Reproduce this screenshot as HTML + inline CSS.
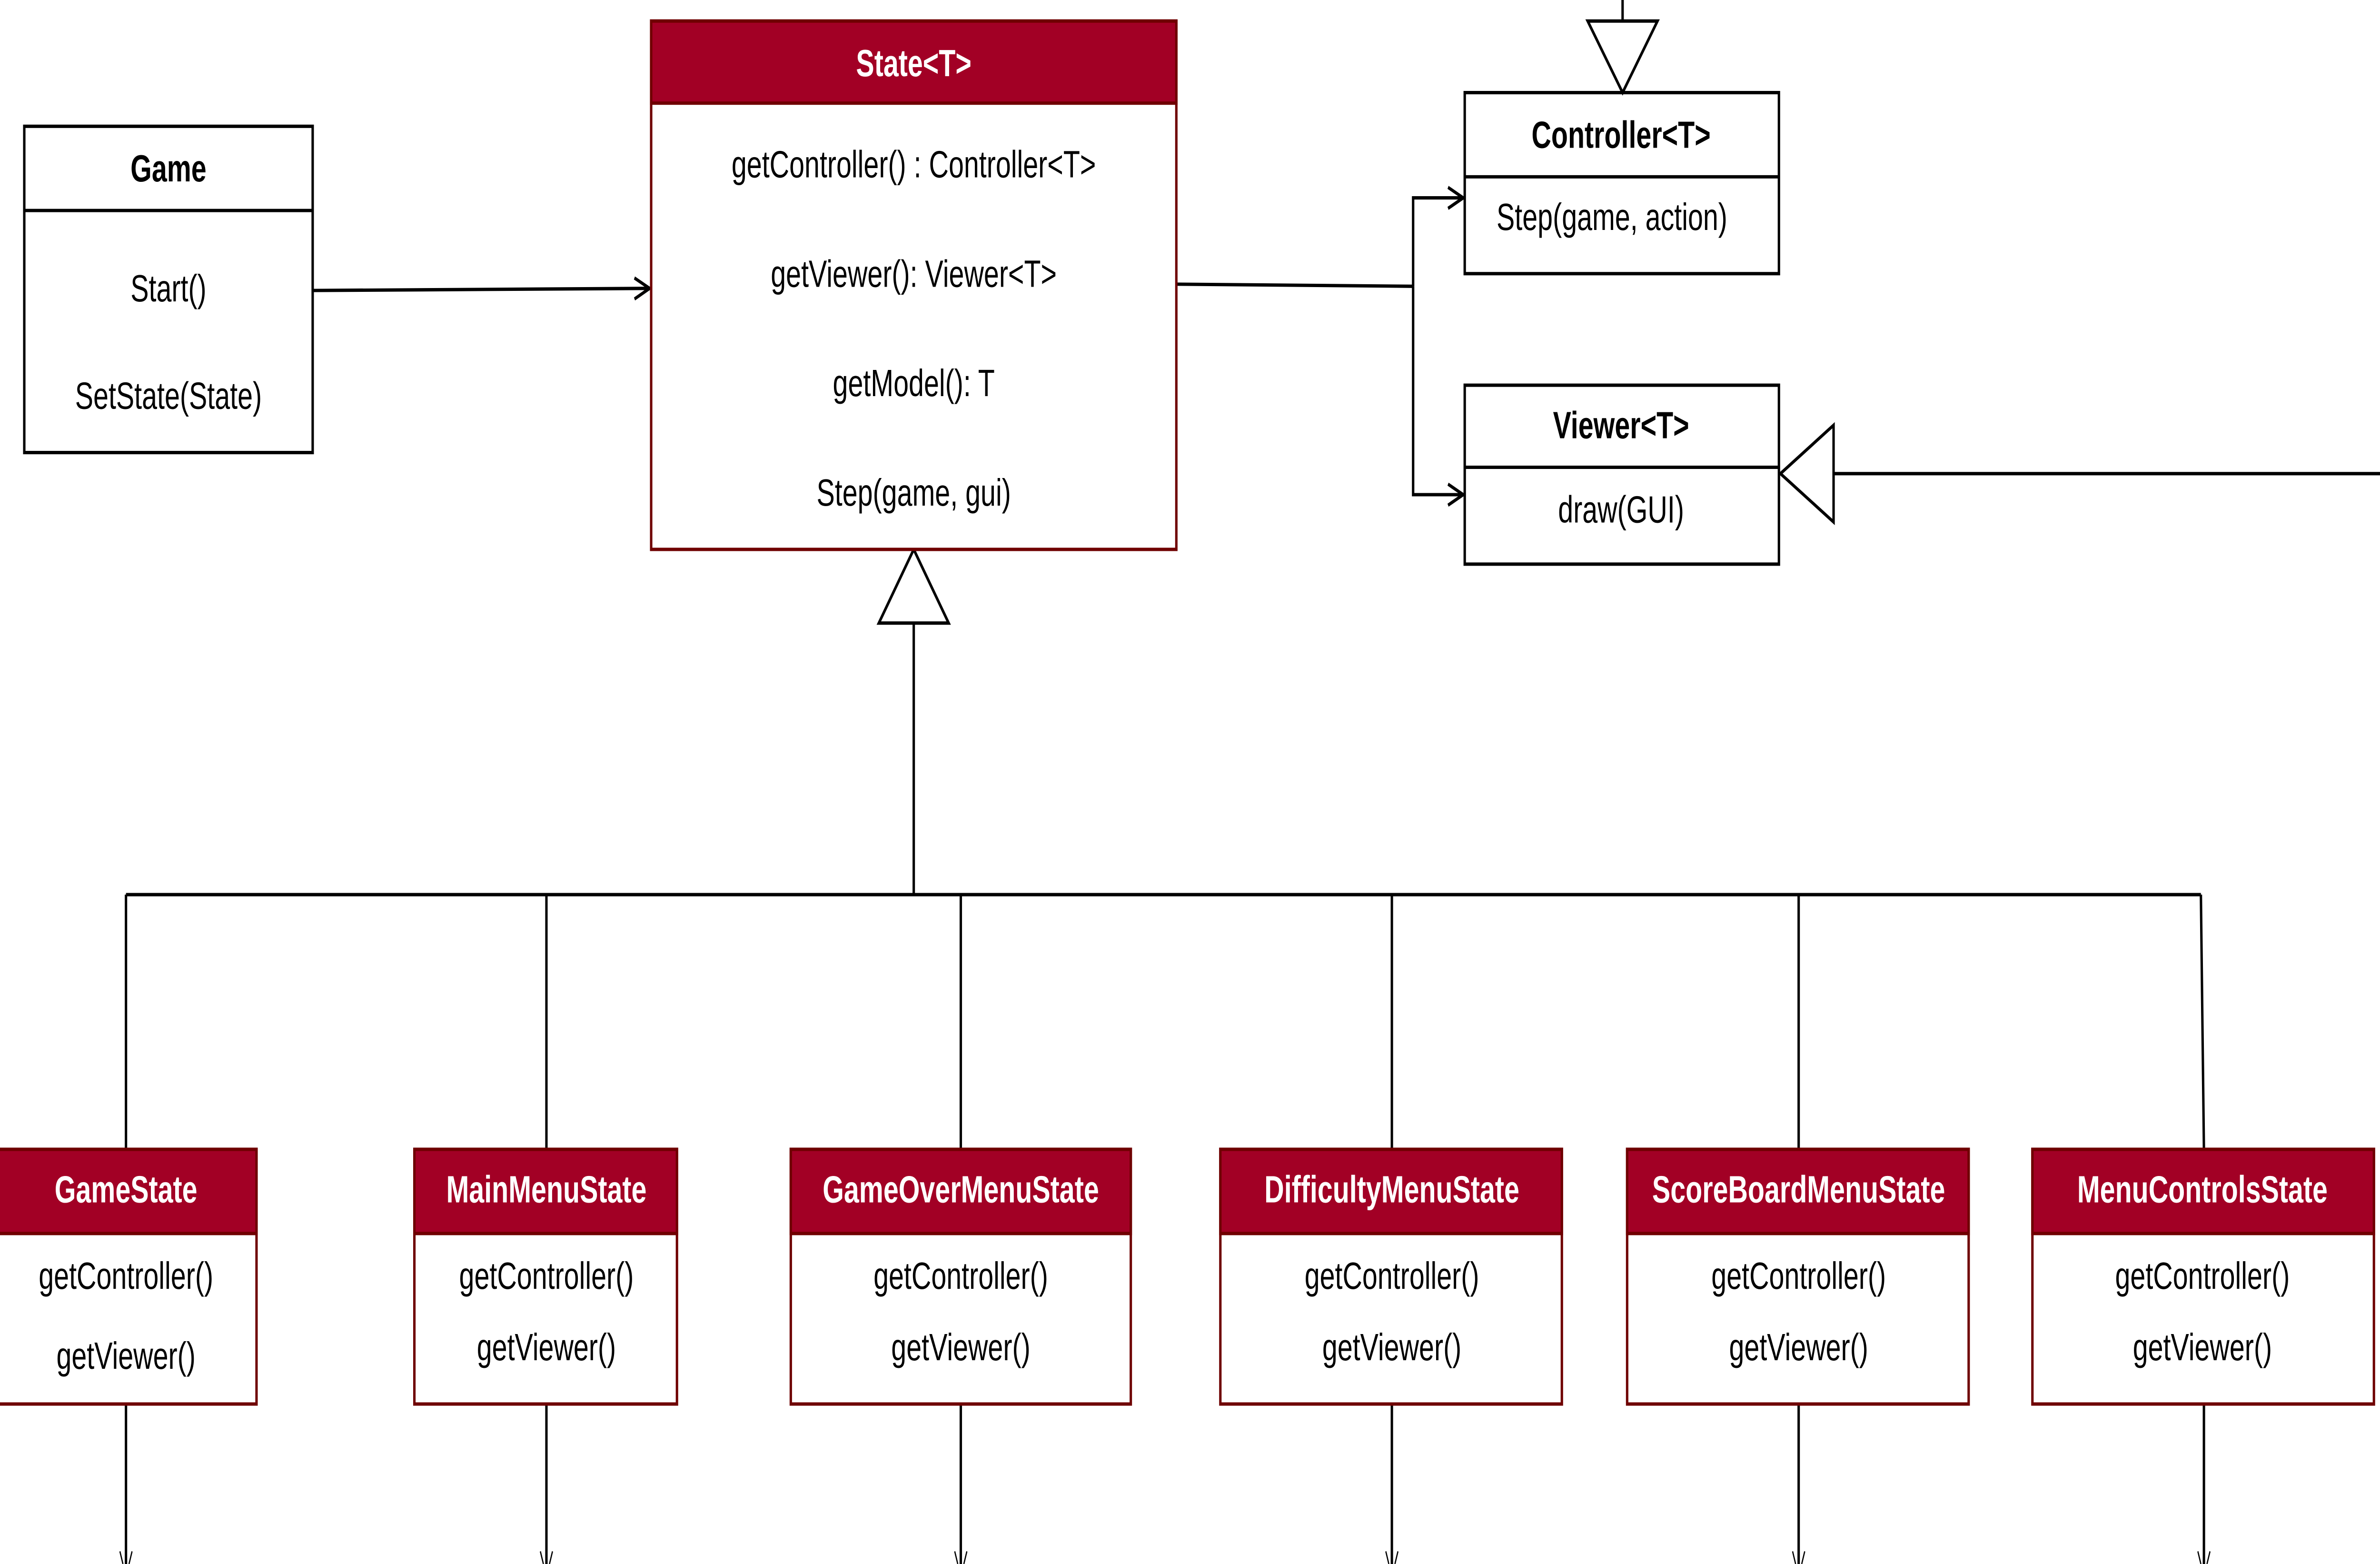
<!DOCTYPE html>
<html><head><meta charset="utf-8"><style>
html,body{margin:0;padding:0;background:#fff;overflow:hidden;width:100%;height:100%;}
svg{display:block;width:100vw;height:100vh;}
text{font-family:"Liberation Sans",Arial,sans-serif;font-size:18px;fill:#000;}
.b{font-weight:bold;}
.w{fill:#fff;font-weight:bold;}
</style></head><body>
<svg viewBox="0 0 1568 743" preserveAspectRatio="none" xmlns="http://www.w3.org/2000/svg">
<defs>
<marker id="oa" viewBox="0 0 12 12" refX="11" refY="6" markerWidth="12" markerHeight="12" markerUnits="userSpaceOnUse" orient="auto">
<path d="M1,1 L11,6 L1,11" fill="none" stroke="#000" stroke-width="1.6"/>
</marker>
</defs>
<g fill="none" stroke="#000" stroke-width="1.6">
<rect x="16" y="60" width="190" height="155" fill="#fff"/>
<line x1="16" y1="100" x2="206" y2="100"/>
<line x1="206" y1="138" x2="428" y2="137" marker-end="url(#oa)"/>
<polyline points="775,135 931,136"/>
<polyline points="931,136 931,94 964,94" marker-end="url(#oa)"/>
<polyline points="931,136 931,235 964,235" marker-end="url(#oa)"/>
<rect x="965" y="44" width="207" height="86" fill="#fff"/>
<line x1="965" y1="84" x2="1172" y2="84"/>
<line x1="1069" y1="0" x2="1069" y2="10"/>
<polygon points="1046,10 1092,10 1069,44" fill="#fff"/>
<rect x="965" y="183" width="207" height="85" fill="#fff"/>
<line x1="965" y1="222" x2="1172" y2="222"/>
<line x1="1208" y1="225" x2="1568" y2="225"/>
<polygon points="1208,202 1208,248 1173,225" fill="#fff"/>
<polygon points="579,296 625,296 602,261" fill="#fff"/>
<line x1="602" y1="296" x2="602" y2="425"/>
<line x1="83" y1="425" x2="1450" y2="425"/>
<line x1="83" y1="425" x2="83" y2="546"/>
<line x1="360" y1="425" x2="360" y2="546"/>
<line x1="633" y1="425" x2="633" y2="546"/>
<line x1="917" y1="425" x2="917" y2="546"/>
<line x1="1185" y1="425" x2="1185" y2="546"/>
<line x1="1450" y1="425" x2="1452" y2="546"/>
<line x1="83" y1="667" x2="83" y2="743"/>
<line x1="360" y1="667" x2="360" y2="743"/>
<line x1="633" y1="667" x2="633" y2="743"/>
<line x1="917" y1="667" x2="917" y2="743"/>
<line x1="1185" y1="667" x2="1185" y2="743"/>
<line x1="1452" y1="667" x2="1452" y2="743"/>
</g>
<g stroke="#000" stroke-width="0.8" fill="none">
<path d="M79,737 L81,743 M87,737 L85,743 M356,737 L358,743 M364,737 L362,743 M629,737 L631,743 M637,737 L635,743 M913,737 L915,743 M921,737 L919,743 M1181,737 L1183,743 M1189,737 L1187,743 M1448,737 L1450,743 M1456,737 L1454,743"/>
</g>
<rect x="429" y="10" width="346" height="251" fill="#fff" stroke="#6F0000" stroke-width="1.6"/>
<rect x="429" y="10" width="346" height="39" fill="#a20025" stroke="#6F0000" stroke-width="1.6"/>
<g stroke="#6F0000" stroke-width="1.6">
<rect x="-3" y="546" width="172" height="121" fill="#fff"/><rect x="-3" y="546" width="172" height="40" fill="#a20025"/>
<rect x="273" y="546" width="173" height="121" fill="#fff"/><rect x="273" y="546" width="173" height="40" fill="#a20025"/>
<rect x="521" y="546" width="224" height="121" fill="#fff"/><rect x="521" y="546" width="224" height="40" fill="#a20025"/>
<rect x="804" y="546" width="225" height="121" fill="#fff"/><rect x="804" y="546" width="225" height="40" fill="#a20025"/>
<rect x="1072" y="546" width="225" height="121" fill="#fff"/><rect x="1072" y="546" width="225" height="40" fill="#a20025"/>
<rect x="1339" y="546" width="225" height="121" fill="#fff"/><rect x="1339" y="546" width="225" height="40" fill="#a20025"/>
</g>
<g text-anchor="middle" dominant-baseline="central">
<text class="b" x="111" y="80">Game</text>
<text x="111" y="137">Start()</text>
<text x="111" y="188">SetState(State)</text>
<text class="w" x="602" y="30">State&lt;T&gt;</text>
<text x="602" y="78">getController() : Controller&lt;T&gt;</text>
<text x="602" y="130">getViewer(): Viewer&lt;T&gt;</text>
<text x="602" y="182">getModel(): T</text>
<text x="602" y="234">Step(game, gui)</text>
<text class="b" x="1068" y="64">Controller&lt;T&gt;</text>
<text x="1062" y="103">Step(game, action)</text>
<text class="b" x="1068" y="202">Viewer&lt;T&gt;</text>
<text x="1068" y="242">draw(GUI)</text>
<text class="w" x="83" y="565">GameState</text>
<text x="83" y="606">getController()</text>
<text x="83" y="644">getViewer()</text>
<text class="w" x="360" y="565">MainMenuState</text>
<text x="360" y="606">getController()</text>
<text x="360" y="640">getViewer()</text>
<text class="w" x="633" y="565">GameOverMenuState</text>
<text x="633" y="606">getController()</text>
<text x="633" y="640">getViewer()</text>
<text class="w" x="917" y="565">DifficultyMenuState</text>
<text x="917" y="606">getController()</text>
<text x="917" y="640">getViewer()</text>
<text class="w" x="1185" y="565">ScoreBoardMenuState</text>
<text x="1185" y="606">getController()</text>
<text x="1185" y="640">getViewer()</text>
<text class="w" x="1451" y="565">MenuControlsState</text>
<text x="1451" y="606">getController()</text>
<text x="1451" y="640">getViewer()</text>
</g>
</svg>
</body></html>
